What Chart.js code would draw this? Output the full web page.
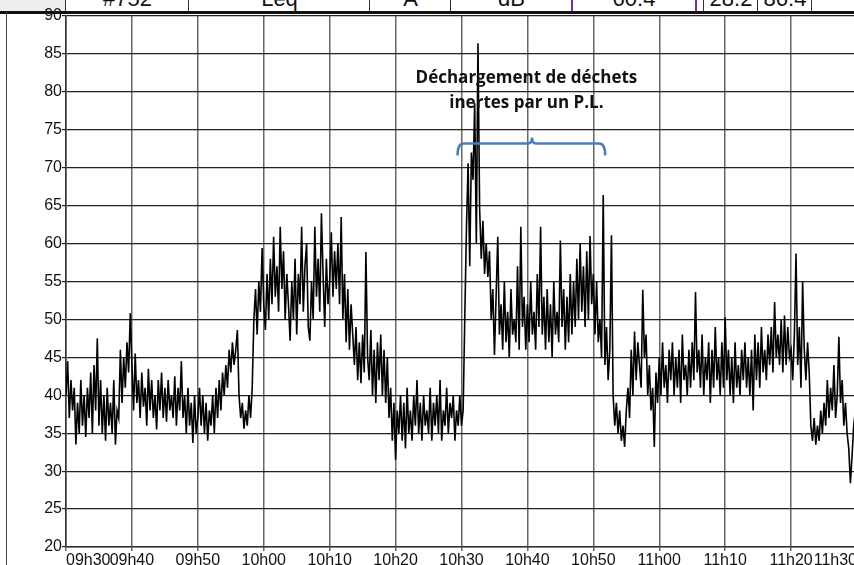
<!DOCTYPE html>
<html>
<head>
<meta charset="utf-8">
<script src="https://cdn.jsdelivr.net/npm/chart.js@4.4.0/dist/chart.umd.min.js"></script>
<style>
  html, body { margin: 0; padding: 0; background: #fff; overflow: hidden; }
  #wrap { position: relative; width: 854px; height: 565px; overflow: hidden; background: #fff; }
  #head { position: absolute; left: 0; top: 0; width: 854px; height: 12px; overflow: hidden; }
  .cell { position: absolute; top: 0; height: 12px; overflow: hidden; border-left: 1px solid #333;
          text-align: center; font: 22px "Liberation Sans", Arial, sans-serif; color: #111; }
  .cell span { position: absolute; left: 0; right: 0; top: -11px; line-height: 20px; }
  #bar { position: absolute; left: 0; top: 11px; width: 854px; height: 3px; background: #111; }
  #frame { position: absolute; left: 6px; top: 12px; width: 1px; height: 560px; background: #444; }
  canvas { position: absolute; left: 0; top: 0; }
</style>
</head>
<body>
<div id="wrap">
  <div id="head">
    <div class="cell" style="left:0;width:65px;background:#eee;border-left:none"></div>
    <div class="cell" style="left:65px;width:123px"><span>#752</span></div>
    <div class="cell" style="left:188px;width:181px"><span>Leq</span></div>
    <div class="cell" style="left:369px;width:81px"><span>A</span></div>
    <div class="cell" style="left:450px;width:121px"><span>dB</span></div>
    <div class="cell" style="left:571px;width:122px;border:2px solid #7030a0;border-top:none"><span>60.4</span></div>
    <div class="cell" style="left:703px;width:54px"><span>28.2</span></div>
    <div class="cell" style="left:757px;width:54px"><span>86.4</span></div>
    <div class="cell" style="left:811px;width:43px"></div>
  </div>
  <canvas id="c" width="880" height="565"></canvas>
  <div id="bar"></div>
  <div id="frame"></div>
</div>
<script>
// sound level (dB(A)), one reading every 15 s, starting 09h30
const STEP_MIN = 0.25;
const seg0930 = [40, 44.5, 37, 42, 38, 41, 33.5, 39, 35, 42, 36, 40, 34.5, 41, 37, 43, 35, 44, 38, 47.5,
                 36, 42, 35, 40, 34, 41, 36, 39, 35, 42, 33.5, 38, 37, 46, 39, 45, 41, 47, 43, 50.8];
const seg0940 = [44, 38, 45.5, 39, 42, 37, 43, 38.5, 41, 36, 43.5, 38, 42, 37, 40, 35.5, 42, 38, 43, 37,
                 41, 36.5, 42, 38, 40, 37, 42.5, 36, 41, 38, 44.5, 37, 40, 35, 41, 36, 39, 33.7, 40, 35];
const seg0950 = [37, 41, 36, 40, 35, 39, 34, 38, 36, 40, 35, 41, 37, 42, 38, 43, 40, 44, 41, 46,
                 43, 47, 44, 46, 48.6, 40, 37, 39, 35.6, 38, 36, 40, 37, 41, 50, 54, 48, 55, 51, 59.4];
const seg1000 = [52, 48.6, 56, 50, 58, 52, 60.9, 53, 57, 51, 62.2, 54, 59, 50, 56, 52, 47.2, 55, 50, 58,
                 48, 56, 52, 62.2, 51, 57, 60, 49, 47.2, 55, 50, 62.2, 53, 58, 51, 64, 56, 49, 58, 52];
const seg1010 = [55, 61.5, 53, 59, 54, 60, 52, 63.5, 50, 56, 47, 54, 46, 52, 48, 44, 49, 42, 47, 41.6,
                 48, 43, 58.9, 45, 42, 48.6, 40, 46, 39, 47, 42, 48, 40, 46, 39, 45, 37, 41, 34, 39];
const seg1020 = [31.5, 38, 35, 40, 34, 39, 33, 41, 35, 38, 34, 40, 36, 42, 35, 39, 34, 40, 36, 38,
                 35, 41, 34, 39, 36, 40, 35, 42, 34, 38, 36, 41, 35, 39, 37, 40, 34, 38, 36, 40];
const seg1030 = [36, 38, 50.3, 62, 70.6, 57, 72, 68.4, 78.5, 60, 86.4, 64.6, 58, 63, 56, 60, 55.6, 59, 50, 54,
                 45.3, 53, 60.9, 48, 52, 46, 55, 47, 51, 45, 54, 48, 50, 47, 57, 46, 62.2, 49, 53, 46];
const seg1040 = [52, 47, 55, 48, 51, 46, 56, 49, 62.2, 48, 53, 46, 54, 47, 52, 45, 55, 48, 51, 47,
                 60.4, 49, 54, 46, 53, 47, 56, 48, 55, 49, 58, 50, 60, 51, 57, 49, 59, 50, 61, 52];
const seg1050 = [56, 48, 55, 47, 50, 45, 66.4, 44, 49, 42, 46, 61.1, 40, 36, 39, 35, 38, 34, 36, 33.2,
                 38, 41, 37, 46, 40, 48.4, 42, 47, 44, 41, 53.9, 45, 48, 40, 44, 38, 41, 33.2, 43, 39];
const seg1100 = [45, 40, 47, 41, 44, 39, 46, 42, 47, 40, 45, 41, 46, 39, 48, 42, 44, 40, 46, 41,
                 47, 42, 53.6, 43, 46, 41, 48, 40, 45, 42, 47, 39, 46, 41, 49, 42, 45, 40, 47, 41];
const seg1110 = [50.3, 42, 46, 40, 45, 39, 47, 41, 44, 40, 46, 42, 47, 41, 45, 40, 46, 38, 48, 42,
                 47, 41, 49, 43, 46, 42, 48, 44, 49, 43, 52.3, 45, 48, 44, 50, 43, 50.5, 44, 49, 45];
const seg1120 = [46, 42, 48, 58.7, 44, 49, 41, 55, 46, 42, 47, 43, 36, 34, 37, 33.5, 36, 34, 38, 35,
                 39, 36, 42, 37, 41, 38, 44, 37, 40, 47.7, 39, 42, 36, 39, 35, 33, 28.4, 32, 36, 38, 37];

const xTickMinutes = [0, 10, 20, 30, 40, 50, 60, 70, 80, 90, 100, 110, 120];
const xTickLabels = ["09h30", "09h40", "09h50", "10h00", "10h10", "10h20", "10h30",
                     "10h40", "10h50", "11h00", "11h10", "11h20", "11h30"];
const yTicks = [20, 25, 30, 35, 40, 45, 50, 55, 60, 65, 70, 75, 80, 85, 90];

const noteLines = ["Déchargement de déchets", "inertes par un P.L."];
const noteFrom = 59.4, noteTo = 81.8, noteMid = 70.7, noteLevel = 73.2;

const levels = [].concat(seg0930, seg0940, seg0950, seg1000, seg1010, seg1020,
                         seg1030, seg1040, seg1050, seg1100, seg1110, seg1120);
const points = levels.map((v, i) => ({ x: i * STEP_MIN, y: v }));

const note = {
  id: "note",
  afterDatasetsDraw(chart) {
    const { ctx, scales: { x, y } } = chart;
    const x1 = x.getPixelForValue(noteFrom), x2 = x.getPixelForValue(noteTo);
    const xm = x.getPixelForValue(noteMid), yb = y.getPixelForValue(noteLevel);
    ctx.save();
    ctx.strokeStyle = "#4a7ebb";
    ctx.lineWidth = 2.5;
    ctx.beginPath();
    ctx.moveTo(x1, yb + 12);
    ctx.quadraticCurveTo(x1, yb, x1 + 6, yb);
    ctx.lineTo(xm - 4, yb);
    ctx.quadraticCurveTo(xm, yb, xm, yb - 6);
    ctx.quadraticCurveTo(xm, yb, xm + 4, yb);
    ctx.lineTo(x2 - 6, yb);
    ctx.quadraticCurveTo(x2, yb, x2, yb + 12);
    ctx.stroke();
    ctx.fillStyle = "#111";
    ctx.font = "bold 17px 'Open Sans', sans-serif";
    ctx.textAlign = "center";
    ctx.textBaseline = "alphabetic";
    const cx = x.getPixelForValue(70) - 1;
    ctx.fillText(noteLines[0], cx, 83);
    ctx.fillText(noteLines[1], cx, 108);
    ctx.restore();
  }
};

new Chart(document.getElementById("c"), {
  type: "line",
  data: {
    datasets: [{
      data: points,
      borderColor: "#000",
      borderWidth: 1.6,
      pointRadius: 0,
      tension: 0,
      fill: false
    }]
  },
  options: {
    responsive: false,
    animation: false,
    devicePixelRatio: 1,
    layout: { padding: { top: 16, right: 23, left: 0, bottom: 0 } },
    plugins: { legend: { display: false }, tooltip: { enabled: false } },
    scales: {
      x: {
        type: "linear",
        min: 0,
        max: 120,
        afterBuildTicks: (s) => { s.ticks = xTickMinutes.map((v) => ({ value: v })); },
        afterFit: (s) => { s.height = 18; },
        ticks: {
          callback: (v) => xTickLabels[xTickMinutes.indexOf(v)],
          align: "inner",
          autoSkip: false,
          maxRotation: 0,
          padding: 0,
          color: "#111",
          font: { family: "'Liberation Sans', Arial, sans-serif", size: 16 }
        },
        grid: { color: "#666", lineWidth: 1.5, tickLength: 4 },
        border: { color: "#333", width: 1.5 }
      },
      y: {
        min: 20,
        max: 90,
        afterBuildTicks: (s) => { s.ticks = yTicks.map((v) => ({ value: v })); },
        afterFit: (s) => { s.width = 66; },
        ticks: {
          padding: 0,
          color: "#111",
          font: { family: "'Liberation Sans', Arial, sans-serif", size: 16 }
        },
        grid: { color: "#222", lineWidth: 1.2, tickLength: 4 },
        border: { color: "#333", width: 1.5 }
      }
    }
  },
  plugins: [note]
});
</script>
</body>
</html>
